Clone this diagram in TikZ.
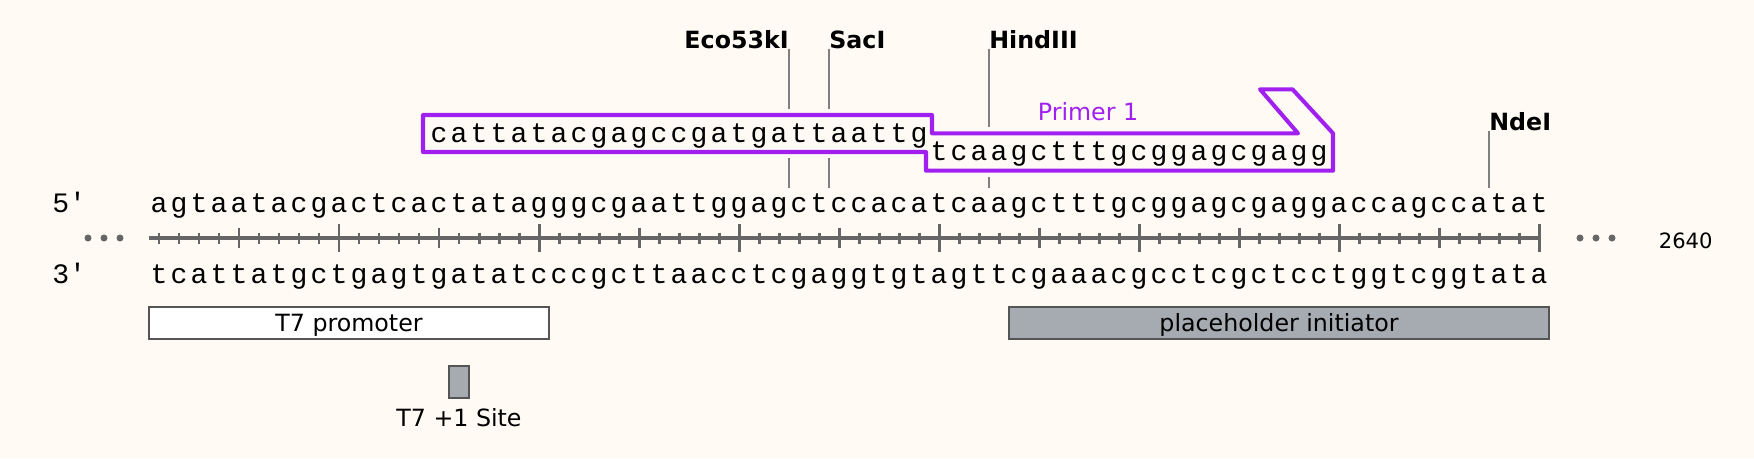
\documentclass[tikz,border=0pt]{standalone}
\usepackage{fontspec}
\setmainfont{DejaVu Sans}
\newfontfamily\seqfont{Liberation Mono}
\usepackage{tikz}
\usetikzlibrary{positioning}
\definecolor{bg}{RGB}{255,251,244}
\definecolor{axisgray}{RGB}{102,102,102}
\definecolor{cutgray}{RGB}{128,128,128}
\definecolor{primerc}{RGB}{160,32,240}
\definecolor{featfill}{RGB}{166,171,178}
\definecolor{featedge}{RGB}{85,85,85}
\tikzstyle{ntnode} = [font=\seqfont\fontsize{16}{16}\selectfont, inner sep=0pt, anchor=base]
\tikzstyle{sitelabel} = [font=\bfseries\fontsize{13.5}{13.5}\selectfont, inner sep=0pt]
\tikzstyle{featlabel} = [font=\fontsize{13.5}{13.5}\selectfont, inner sep=0pt, anchor=base]
\tikzstyle{cutline} = [draw=cutgray, line width=0.9pt]
\tikzstyle{tickline} = [draw=axisgray, line width=1.7pt]
\tikzstyle{dotnode} = [circle, fill=axisgray, inner sep=0pt, minimum size=0.14cm]
\tikzstyle{featbox} = [draw=featedge, line width=1.1pt]
\tikzstyle{primerline} = [draw=primerc, line width=2.3pt, line join=round]
\begin{document}
\begin{tikzpicture}[x=0.02cm, y=-0.02cm]
			\useasboundingbox (0,0) rectangle (1754,458);
			\fill [bg] (0,0) rectangle (1754,458);
			
			% cut sites
			\node [sitelabel, anchor=base east] (eco) at (789,48) {Eco53kI};
			\node [sitelabel, anchor=base west] (sac) at (829,48) {SacI};
			\node [sitelabel, anchor=base west] (hind) at (989,48) {HindIII};
			\node [sitelabel, anchor=base west] (nde) at (1489,130) {NdeI};
			\coordinate (ecoA) at (789,109); \coordinate (ecoB) at (789,158); \coordinate (ecoC) at (789,188);
			\coordinate (sacA) at (829,109); \coordinate (sacB) at (829,158); \coordinate (sacC) at (829,188);
			\coordinate (hindA) at (989,127); \coordinate (hindB) at (989,177); \coordinate (hindC) at (989,188);
			\coordinate (ndeA) at (1489,188);
			\path [cutline] (eco.south east) -- (ecoA);
			\path [cutline] (ecoB) -- (ecoC);
			\path [cutline] (sac.south west) -- (sacA);
			\path [cutline] (sacB) -- (sacC);
			\path [cutline] (hind.south west) -- (hindA);
			\path [cutline] (hindB) -- (hindC);
			\path [cutline] (nde.south west) -- (ndeA);
			
			% primer
			\path [primerline] (423,115) -- (932,115) -- (932,133.3) -- (1298,133.3) -- (1260,89.3) -- (1292.5,89.3)
				-- (1333,133.3) -- (1333,170.7) -- (926,170.7) -- (926,152) -- (423,152) -- cycle;
			\node [featlabel, text=primerc] (p1) at (1088,120) {Primer 1};
			\foreach \b [count=\i from 15] in {c,a,t,t,a,t,a,c,g,a,g,c,c,g,a,t,g,a,t,t,a,a,t,t,g}
				\node [ntnode] (pu\i) at (139+20*\i,142) {\b};
			\foreach \b [count=\i from 40] in {t,c,a,a,g,c,t,t,t,g,c,g,g,a,g,c,g,a,g,g}
				\node [ntnode] (pl\i) at (139+20*\i,160.5) {\b};
			
			% strands
			\node [ntnode, anchor=base west] (five) at (52,212) {5′};
			\node [ntnode, anchor=base west] (three) at (52,283) {3′};
			\foreach \b [count=\i] in {a,g,t,a,a,t,a,c,g,a,c,t,c,a,c,t,a,t,a,g,g,g,c,g,a,a,t,t,g,g,a,g,c,t,c,c,a,c,a,t,c,a,a,g,c,t,t,t,g,c,g,g,a,g,c,g,a,g,g,a,c,c,a,g,c,c,a,t,a,t}
				\node [ntnode] (t\i) at (139+20*\i,212) {\b};
			\foreach \b [count=\i] in {t,c,a,t,t,a,t,g,c,t,g,a,g,t,g,a,t,a,t,c,c,c,g,c,t,t,a,a,c,c,t,c,g,a,g,g,t,g,t,a,g,t,t,c,g,a,a,a,c,g,c,c,t,c,g,c,t,c,c,t,g,g,t,c,g,g,t,a,t,a}
				\node [ntnode] (b\i) at (139+20*\i,283) {\b};
			
			% ruler
			\path [draw=axisgray, line width=2.6pt] (148.5,238) -- (1540,238);
			\foreach \k in {1,...,70} {
				\pgfmathsetmacro{\h}{mod(\k,10)==0 ? 14 : (mod(\k,5)==0 ? 10 : 5.5)}
				\path [tickline] (139+20*\k,238-\h) -- (139+20*\k,238+\h);
			}
			\foreach \x [count=\i] in {88,104,120} \node [dotnode] (ld\i) at (\x,238) {};
			\foreach \x [count=\i] in {1580,1596,1612} \node [dotnode] (rd\i) at (\x,238) {};
			\node [featlabel, font=\fontsize{12}{12}\selectfont, anchor=base west] (pos) at (1658.5,248.3) {2640};
			
			% features
			\path [featbox, fill=white] (149,307) rectangle (549,339);
			\node [featlabel] (t7) at (349,331.5) {T7 promoter};
			\path [featbox, fill=featfill] (1009,307) rectangle (1549,339);
			\node [featlabel] (init) at (1279,331.5) {placeholder initiator};
			\path [featbox, fill=featfill] (449,366) rectangle (469,398);
			\node [featlabel] (site) at (459,426) {T7 +1 Site};
		\end{tikzpicture}
\end{document}
